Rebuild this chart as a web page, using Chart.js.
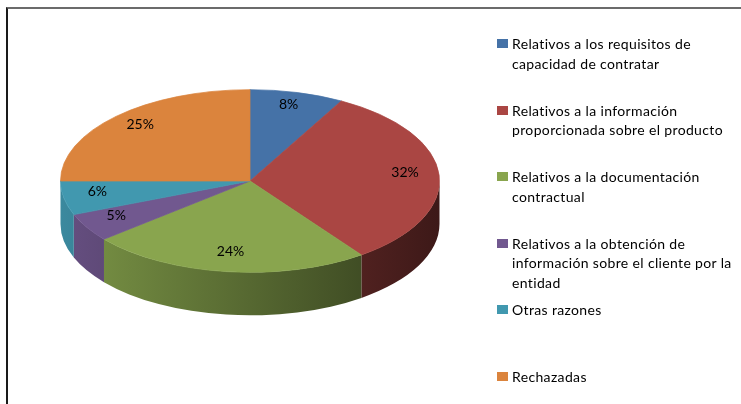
<!DOCTYPE html>
<html>
<head>
<meta charset="utf-8">
<script src="https://cdn.jsdelivr.net/npm/chart.js@4.4.1/dist/chart.umd.min.js"></script>
<style>
  body { margin: 0; background: #fff; }
  #wrap { position: relative; width: 741px; height: 404px; overflow: hidden; font-family: Lato, sans-serif; }
  #frame { position: absolute; left: 6px; top: 7px; width: 760px; height: 420px;
           border-top: 2px solid #6b6b6b; border-left: 2px solid #1a1a1a; }
  canvas { position: absolute; left: 0; top: 0; }
  .item { position: absolute; left: 497px; font-size: 14px; line-height: 19.5px; letter-spacing: 0.35px; color: #000; }
  .item i { position: absolute; left: 0; top: 5px; width: 11px; height: 9px; }
  .item span { display: block; margin-left: 15px; white-space: nowrap; }
</style>
</head>
<body>
<div id="wrap">
  <div id="frame"></div>
  <canvas id="pie" width="741" height="404"></canvas>
  <div id="legend"></div>
</div>
<script>
// legend text, one entry per line as it wraps in the original
const labelLines = [
  ['Relativos a los requisitos de', 'capacidad de contratar'],
  ['Relativos a la información', 'proporcionada sobre el producto'],
  ['Relativos a la documentación', 'contractual'],
  ['Relativos a la obtención de', 'información sobre el cliente por la', 'entidad'],
  ['Otras razones'],
  ['Rechazadas']
];
const shares = [8, 32, 24, 5, 6, 25];
const colors = ['#4572A7', '#AA4643', '#89A54E', '#71588F', '#4198AF', '#DB843D'];

const labels = labelLines.map(l => l.join(' '));

// fake 3D: squash the pie and draw the side wall under it
const tilt = { cy: 181, ratio: 0.482, depth: 43 };

function shade(hex, f) {
  const n = parseInt(hex.slice(1), 16);
  const r = Math.round(((n >> 16) & 255) * f);
  const g = Math.round(((n >> 8) & 255) * f);
  const b = Math.round((n & 255) * f);
  return `rgb(${r},${g},${b})`;
}

const pie3d = {
  id: 'pie3d',
  beforeDatasetsDraw(chart) {
    const ctx = chart.ctx;
    const arcs = chart.getDatasetMeta(0).data;
    const { x: cx, y: cy, outerRadius: r } = arcs[0];
    const ry = r * tilt.ratio;

    arcs.forEach((arc, i) => {
      const a0 = Math.max(arc.startAngle, 0);
      const a1 = Math.min(arc.endAngle, Math.PI);
      if (a1 <= a0) return;
      const grad = ctx.createLinearGradient(cx - r, 0, cx + r, 0);
      grad.addColorStop(0, shade(colors[i], 0.9));
      grad.addColorStop(1, shade(colors[i], 0.36));
      ctx.beginPath();
      ctx.ellipse(cx, tilt.cy, r, ry, 0, a0, a1);
      ctx.ellipse(cx, tilt.cy + tilt.depth, r, ry, 0, a1, a0, true);
      ctx.closePath();
      ctx.fillStyle = grad;
      ctx.fill();
    });

    ctx.save();
    ctx.translate(cx, tilt.cy);
    ctx.scale(1, tilt.ratio);
    ctx.translate(-cx, -cy);
  },
  afterDatasetsDraw(chart) {
    const ctx = chart.ctx;
    ctx.restore();
    const arcs = chart.getDatasetMeta(0).data;
    const { x: cx, outerRadius: r } = arcs[0];
    const ry = r * tilt.ratio;
    ctx.save();
    ctx.font = '14px Lato, sans-serif';
    ctx.fillStyle = '#000';
    ctx.textAlign = 'center';
    ctx.textBaseline = 'middle';
    arcs.forEach((arc, i) => {
      const mid = (arc.startAngle + arc.endAngle) / 2;
      const f = 0.82;
      ctx.fillText(shares[i] + '%', cx + f * r * Math.cos(mid), tilt.cy - 4 + f * ry * Math.sin(mid));
    });
    ctx.restore();
  }
};

new Chart(document.getElementById('pie'), {
  type: 'pie',
  data: {
    labels: labels,
    datasets: [{
      data: shares,
      backgroundColor: colors,
      borderColor: colors,
      borderWidth: 1
    }]
  },
  options: {
    responsive: false,
    animation: false,
    events: [],
    layout: { padding: { left: 60, right: 301, top: 12, bottom: 12 } },
    plugins: { legend: { display: false }, tooltip: { enabled: false } }
  },
  plugins: [pie3d]
});

// legend: Excel gives every entry the same slot height
const legend = document.getElementById('legend');
labelLines.forEach((lines, i) => {
  const div = document.createElement('div');
  div.className = 'item';
  div.style.top = (34 + i * 66.5) + 'px';
  div.innerHTML = `<i style="background:${colors[i]}"></i>` + lines.map(t => `<span>${t}</span>`).join('');
  legend.appendChild(div);
});
</script>
</body>
</html>
